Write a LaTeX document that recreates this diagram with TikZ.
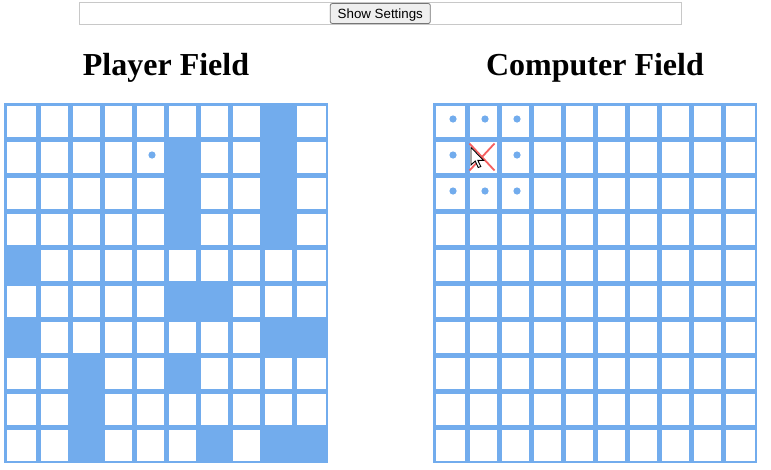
\documentclass[tikz,border=0pt]{standalone}
\usepackage{fontspec}
\setmainfont{Liberation Serif}
\newfontfamily\uifont{Liberation Sans}
\definecolor{cellblue}{RGB}{114,172,237}
\definecolor{barborder}{RGB}{200,200,200}
\definecolor{btnfill}{RGB}{239,239,239}
\definecolor{btnborder}{RGB}{118,118,118}
\definecolor{hitred}{RGB}{245,95,95}
\tikzset{
  titletext/.style={anchor=base, inner sep=0pt, font=\bfseries\fontsize{32}{38}\selectfont},
  btnbox/.style={draw=btnborder, fill=btnfill, line width=0.8pt, rounded corners=2pt,
    minimum width=100pt, minimum height=20pt, inner sep=0pt, text depth=0pt,
    font=\uifont\fontsize{13.33}{16}\selectfont},
  shotdot/.style={fill=cellblue},
}
\begin{document}
\begin{tikzpicture}[x=1pt,y=-1pt]
\useasboundingbox (0,0) rectangle (771,469);
\fill[white] (0,0) rectangle (771,469);
% settings bar
\draw[barborder, line width=1pt] (79.5,2.5) rectangle (681.5,24.5);
\node[btnbox] (showbtn) at (380.3,13.5) {Show Settings};
% titles
\node[titletext] (playertitle) at (166,75) {Player Field};
\node[titletext] (computertitle) at (595,75) {Computer Field};
% grids
\foreach \ox in {0,429}{
  \fill[cellblue] ({\ox+4.3},103.3) rectangle ({\ox+327.7},462.7);
  \foreach \l/\r in {6/36,40/68,72/100,104/132,136/164,168/196,200/228,232/260,264/292,296/326}{
    \foreach \j in {0,...,9}{
      \fill[white] ({\ox+\l+0.5},{105.5+36*\j}) rectangle ({\ox+\r-0.5},{136.5+36*\j});
    }
  }
}
% player ships
\begin{scope}
\clip (4.3,103.3) rectangle (327.7,462.7);
\foreach \c/\r in {8/0,5/1,8/1,5/2,8/2,5/3,8/3,0/4,5/5,6/5,0/6,8/6,9/6,2/7,5/7,2/8,2/9,6/9,8/9,9/9}{
  \fill[cellblue] ({4.5+32*\c},{101.5+36*\r}) rectangle ({39.5+32*\c},{140.5+36*\r});
}
\end{scope}
% shots
\fill[shotdot] (152,155) circle[radius=3.6pt];
\foreach \x/\y in {453/119,485/119,517/119,453/155,517/155,453/191,485/191,517/191}{
  \fill[shotdot] (\x,\y) circle[radius=3.6pt];
}
% hit mark
\draw[hitred, line width=1.8pt] (469.5,143.5) -- (494.5,170.5);
\draw[hitred, line width=1.8pt] (494.5,143.5) -- (469.5,170.5);
% mouse cursor
\draw[black, fill=white, line width=0.9pt, line join=miter, shift={(471,147.5)}]
  (0,0) -- (0,17.5) -- (4.2,13.5) -- (7.2,20) -- (9.8,19) -- (6.8,12.8) -- (12.5,12.8) -- cycle;
\end{tikzpicture}
\end{document}
